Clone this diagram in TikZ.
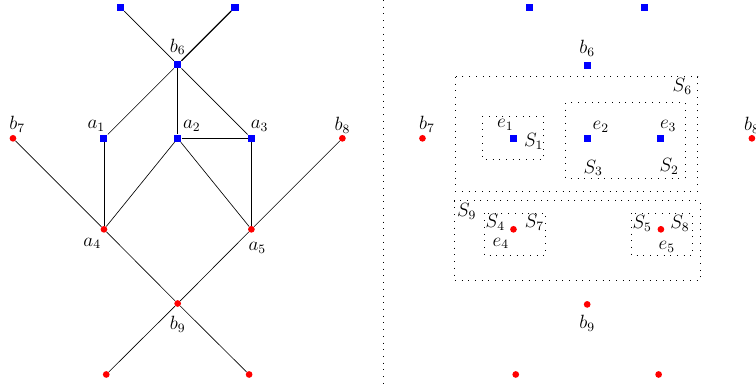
\documentclass[tikz,border=0pt]{standalone}
\usepackage{amsmath}
\usepackage{amssymb}
\usepackage{tikz}
\usetikzlibrary{positioning}

\tikzset{
    bq/.style={rectangle, fill=blue, inner sep=0pt, minimum size=4.4pt},
    rc/.style={circle, fill=red, inner sep=0pt, minimum size=4.2pt},
    lbl/.style={inner sep=0pt, font=\large},
    blocco/.style={line width=0.6pt, dash pattern=on 0.6pt off 3.6pt},
}

\begin{document}
\begin{tikzpicture}
    \useasboundingbox (-3.905,-5.378) rectangle (12.71,3.04);

    % Grafo a sinistra
    \node[bq] (t1) at (-1.26, 2.88) {};
    \node[bq] (t2) at (1.26, 2.88) {};
    \node[bq] (b6) at (0, 1.62) {};
    \node[rc] (b7) at (-3.62, 0) {};
    \node[bq] (a1) at (-1.62, 0) {};
    \node[bq] (a2) at (0, 0) {};
    \node[bq] (a3) at (1.62, 0) {};
    \node[rc] (b8) at (3.62, 0) {};
    \node[rc] (a4) at (-1.62, -2) {};
    \node[rc] (a5) at (1.62, -2) {};
    \node[rc] (b9) at (0, -3.63) {};
    \node[rc] (f1) at (-1.57, -5.19) {};
    \node[rc] (f2) at (1.57, -5.19) {};

    \draw (t1) -- (b6);
    \draw[line width=0.7pt] (t2) -- (b6);
    \draw (b6) -- (a1);
    \draw (b6) -- (a2);
    \draw (b6) -- (a3);
    \draw (a2) -- (a3);
    \draw (a1) -- (a4);
    \draw (a2) -- (a4);
    \draw (a2) -- (a5);
    \draw (a3) -- (a5);
    \draw (b7) -- (a4);
    \draw (b8) -- (a5);
    \draw (a4) -- (b9);
    \draw (a5) -- (b9);
    \draw (b9) -- (f1);
    \draw (b9) -- (f2);

    \node[lbl] (lb6) at ([shift={(0,0.39)}]b6.center) {$b_6$};
    \node[lbl] (la1) at ([shift={(-0.17,0.28)}]a1.center) {$a_1$};
    \node[lbl] (la2) at ([shift={(0.31,0.27)}]a2.center) {$a_2$};
    \node[lbl] (la3) at ([shift={(0.18,0.27)}]a3.center) {$a_3$};
    \node[lbl] (lb7) at ([shift={(0.09,0.31)}]b7.center) {$b_7$};
    \node[lbl] (lb8) at ([shift={(0,0.28)}]b8.center) {$b_8$};
    \node[lbl] (la4) at ([shift={(-0.26,-0.31)}]a4.center) {$a_4$};
    \node[lbl] (la5) at ([shift={(0.13,-0.40)}]a5.center) {$a_5$};
    \node[lbl] (lb9) at ([shift={(0,-0.45)}]b9.center) {$b_9$};

    % Separatore
    \coordinate (sa) at (4.52, 3.04);
    \coordinate (sb) at (4.52, -5.378);
    \draw[blocco] (sa) -- (sb);

    % Grafo a destra con i blocchi
    \begin{scope}[xshift=9cm]
        \node[bq] (u1) at (-1.26, 2.88) {};
        \node[bq] (u2) at (1.26, 2.88) {};
        \node[bq] (d6) at (0, 1.60) {};
        \node[rc] (d7) at (-3.62, 0) {};
        \node[bq] (e1) at (-1.62, 0) {};
        \node[bq] (e2) at (0, 0) {};
        \node[bq] (e3) at (1.62, 0) {};
        \node[rc] (d8) at (3.62, 0) {};
        \node[rc] (e4) at (-1.62, -2) {};
        \node[rc] (e5) at (1.62, -2) {};
        \node[rc] (d9) at (0, -3.65) {};
        \node[rc] (g1) at (-1.57, -5.19) {};
        \node[rc] (g2) at (1.57, -5.19) {};

        \draw[blocco] (-2.31, 0.49) rectangle (-0.96, -0.46);
        \draw[blocco] (-0.47, 0.78) rectangle (2.15, -0.88);
        \draw[blocco] (-2.90, 1.35) rectangle (2.43, -1.16);
        \draw[blocco] (-2.92, -1.37) rectangle (2.48, -3.13);
        \draw[blocco] (-2.26, -1.65) rectangle (-0.91, -2.565);
        \draw[blocco] (0.97, -1.65) rectangle (2.32, -2.565);

        \node[lbl] (ld6) at ([shift={(0,0.385)}]d6.center) {$b_6$};
        \node[lbl] (ld7) at ([shift={(0.1,0.31)}]d7.center) {$b_7$};
        \node[lbl] (ld8) at ([shift={(0,0.28)}]d8.center) {$b_8$};
        \node[lbl] (ld9) at ([shift={(0,-0.42)}]d9.center) {$b_9$};
        \node[lbl] (le1) at (-1.80, 0.30) {$e_1$};
        \node[lbl] (le2) at (0.30, 0.255) {$e_2$};
        \node[lbl] (le3) at (1.78, 0.275) {$e_3$};
        \node[lbl] (le4) at (-1.90, -2.31) {$e_4$};
        \node[lbl] (le5) at (1.75, -2.39) {$e_5$};
        \node[lbl] (s1) at (-1.176, -0.075) {$S_1$};
        \node[lbl] (s2) at (1.80, -0.62) {$S_2$};
        \node[lbl] (s3) at (0.13, -0.65) {$S_3$};
        \node[lbl] (s4) at (-2.02, -1.85) {$S_4$};
        \node[lbl] (s5) at (1.21, -1.87) {$S_5$};
        \node[lbl] (s6) at (2.09, 1.14) {$S_6$};
        \node[lbl] (s7) at (-1.16, -1.85) {$S_7$};
        \node[lbl] (s8) at (2.04, -1.87) {$S_8$};
        \node[lbl] (s9) at (-2.65, -1.60) {$S_9$};
    \end{scope}
\end{tikzpicture}
\end{document}
